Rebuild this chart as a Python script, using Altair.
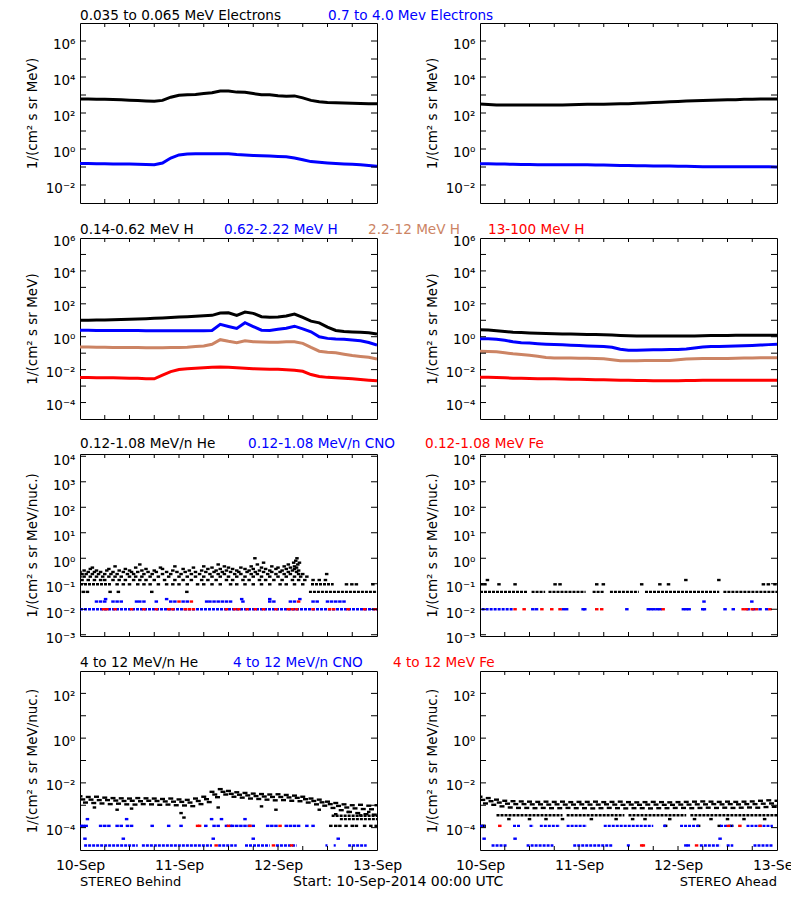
import altair as alt
import numpy as np
import pandas as pd

FONT = "DejaVu Sans"
BLACK, BLUE, BROWN, RED = "#000000", "#0000ff", "#cc8464", "#ff0000"

# ------------------------------------------------------------------
# DATA
# time axis: hours after 10-Sep-2014 00:00 UTC
# ------------------------------------------------------------------
HOURS_2H = list(range(0, 73, 2))
X_TICK_HOURS = [6, 12, 18, 24, 30, 36, 42, 48, 54, 60, 66]
X_LABEL_HOURS = [0, 24, 48, 72]
X_LABELS = ["10-Sep", "11-Sep", "12-Sep", "13-Sep"]

# Row 1: electrons, log10 flux every 2 h
BEH_E_LOW = [2.78, 2.78, 2.77, 2.76, 2.75, 2.73, 2.71, 2.69, 2.67, 2.65, 2.70, 2.88, 2.98, 3.02, 3.03, 3.08, 3.12, 3.22, 3.22,
             3.16, 3.15, 3.08, 3.02, 3.02, 2.96, 2.93, 2.95, 2.84, 2.70, 2.62, 2.58, 2.57, 2.55, 2.54, 2.53, 2.52, 2.52]
BEH_E_HIGH = [-0.80, -0.80, -0.82, -0.82, -0.84, -0.84, -0.84, -0.85, -0.86, -0.87, -0.78, -0.50, -0.33, -0.28, -0.27, -0.26,
              -0.26, -0.26, -0.27, -0.31, -0.33, -0.36, -0.38, -0.39, -0.41, -0.43, -0.50, -0.60, -0.70, -0.74, -0.78, -0.81,
              -0.83, -0.85, -0.88, -0.92, -0.96]
AHD_E_LOW = [2.50, 2.47, 2.45, 2.44, 2.44, 2.44, 2.44, 2.44, 2.44, 2.45, 2.45, 2.46, 2.47, 2.48, 2.48, 2.49, 2.50, 2.51, 2.52,
             2.54, 2.56, 2.58, 2.60, 2.62, 2.64, 2.66, 2.68, 2.70, 2.71, 2.72, 2.73, 2.74, 2.76, 2.77, 2.78, 2.78, 2.78]
AHD_E_HIGH = [-0.82, -0.82, -0.83, -0.84, -0.85, -0.86, -0.86, -0.87, -0.87, -0.87, -0.88, -0.88, -0.88, -0.88, -0.89, -0.89,
              -0.90, -0.91, -0.92, -0.93, -0.93, -0.94, -0.94, -0.95, -0.96, -0.96, -0.97, -0.98, -0.99, -0.99, -0.99, -0.98,
              -0.98, -0.98, -0.99, -0.99, -1.00]

# Row 2: protons, log10 flux every 2 h
BEH_H1 = [1.00, 1.00, 1.01, 1.02, 1.03, 1.05, 1.06, 1.08, 1.10, 1.12, 1.14, 1.17, 1.20, 1.22, 1.25, 1.28, 1.30, 1.44, 1.46,
          1.30, 1.50, 1.42, 1.22, 1.18, 1.20, 1.26, 1.38, 1.18, 0.95, 0.84, 0.58, 0.38, 0.32, 0.29, 0.27, 0.24, 0.16]
BEH_H2 = [0.39, 0.39, 0.38, 0.38, 0.38, 0.38, 0.38, 0.38, 0.37, 0.37, 0.37, 0.37, 0.37, 0.36, 0.36, 0.37, 0.38, 0.75, 0.62,
          0.50, 0.85, 0.62, 0.40, 0.38, 0.45, 0.52, 0.64, 0.48, 0.30, 0.00, -0.10, -0.14, -0.16, -0.20, -0.25, -0.35, -0.50]
BEH_H3 = [-0.63, -0.63, -0.64, -0.64, -0.65, -0.65, -0.66, -0.66, -0.67, -0.67, -0.67, -0.66, -0.66, -0.64, -0.60, -0.56,
          -0.46, -0.18, -0.28, -0.36, -0.25, -0.30, -0.32, -0.33, -0.33, -0.31, -0.30, -0.40, -0.65, -0.88, -0.94, -0.98,
          -1.06, -1.14, -1.20, -1.25, -1.36]
BEH_H4 = [-2.48, -2.48, -2.49, -2.50, -2.50, -2.51, -2.52, -2.53, -2.55, -2.56, -2.34, -2.12, -1.99, -1.95, -1.92, -1.89,
          -1.86, -1.84, -1.86, -1.89, -1.92, -1.94, -1.96, -1.97, -1.98, -2.00, -2.04, -2.10, -2.30, -2.42, -2.47, -2.50,
          -2.53, -2.56, -2.60, -2.64, -2.68]
AHD_H1 = [0.43, 0.41, 0.37, 0.32, 0.27, 0.25, 0.23, 0.21, 0.19, 0.18, 0.17, 0.16, 0.15, 0.14, 0.13, 0.12, 0.10, 0.08, 0.06,
          0.05, 0.05, 0.04, 0.04, 0.04, 0.04, 0.04, 0.05, 0.06, 0.07, 0.08, 0.08, 0.09, 0.09, 0.09, 0.09, 0.09, 0.09]
AHD_H2 = [-0.12, -0.13, -0.16, -0.22, -0.30, -0.36, -0.38, -0.42, -0.45, -0.47, -0.49, -0.52, -0.54, -0.56, -0.58, -0.60,
          -0.64, -0.76, -0.82, -0.82, -0.80, -0.79, -0.79, -0.78, -0.78, -0.74, -0.68, -0.62, -0.60, -0.59, -0.58, -0.57,
          -0.55, -0.53, -0.51, -0.48, -0.46]
AHD_H3 = [-0.89, -0.90, -0.92, -0.98, -1.04, -1.08, -1.12, -1.18, -1.26, -1.29, -1.30, -1.30, -1.31, -1.31, -1.32, -1.34,
          -1.40, -1.46, -1.46, -1.46, -1.45, -1.45, -1.44, -1.44, -1.40, -1.36, -1.34, -1.33, -1.33, -1.32, -1.32, -1.31,
          -1.30, -1.29, -1.28, -1.28, -1.27]
AHD_H4 = [-2.46, -2.47, -2.48, -2.50, -2.52, -2.53, -2.54, -2.55, -2.56, -2.56, -2.57, -2.58, -2.59, -2.60, -2.61, -2.62,
          -2.63, -2.64, -2.65, -2.66, -2.66, -2.67, -2.67, -2.67, -2.67, -2.66, -2.66, -2.65, -2.65, -2.65, -2.65, -2.65,
          -2.65, -2.65, -2.65, -2.65, -2.65]

# Row 3: 0.12-1.08 MeV/n ions -- quantised flux levels: (level, hours)
BEH_HE_LOW_DOTS = [
    (0.048, [0.8, 1.8, 7.3, 9.3, 17.4, 25.9]),
    (0.095, [9, 10.5, 12, 14, 15.5, 17, 19, 21, 22.5, 24, 26, 28.5, 30, 32, 34, 36.5, 38, 40, 42, 44, 46, 48.5, 50, 52,
             54, 64.6, 65.9, 67, 71]),
    (0.14, [0.5, 2, 3.5, 5, 6, 8, 9.5, 11, 13, 14.5, 16, 18, 20.5, 23, 25, 27, 29.5, 31, 33, 35.5, 37, 39.5, 41, 43.5,
            45, 47, 49, 51.5, 53, 54.5, 56.5, 58, 59.5]),
    (0.19, [0, 1, 2.5, 4, 5.5, 7, 8.5, 10, 12, 13.5, 15, 17, 19, 21.5, 24, 26, 28, 30, 32, 34, 36, 38, 40, 42, 44, 46,
            48, 50, 52, 53.5, 55]),
    (0.24, [0.5, 1.5, 3, 4.5, 6, 7.5, 9, 11.5, 13, 15.5, 17.5, 20, 22, 24.5, 27, 29, 31.5, 33.5, 35, 37.5, 39, 41.5,
            43, 45.5, 47.5, 49.5, 51, 53, 54, 59.8]),
    (0.29, [0, 2, 3.5, 5, 8, 10.5, 12.5, 14, 16.5, 18.5, 21, 23.5, 25.5, 28, 30.5, 32.5, 34.5, 36.5, 38.5, 40.5, 42.5,
            44.5, 46.5, 48.5, 50.5, 52.5]),
    (0.33, [1, 4, 6.5, 9.5, 12, 15, 18, 22.5, 26.5, 29.5, 33, 35.5, 38, 41, 43.5, 46, 49, 51.5, 53]),
    (0.38, [2.5, 7, 11, 16, 20, 25, 31, 34, 37, 40, 42, 45, 47.5, 50, 52]),
    (0.43, [3, 13.5, 19.5, 27.5, 32, 36, 39, 44, 48, 51, 52.5]),
    (0.48, [8.5, 23, 30, 35, 41.5, 46.5, 49.5, 52]),
    (0.57, [14.5, 33.5, 43, 50.5, 52.8]),
    (0.67, [44.5, 51.8, 53.2]),
    (0.8, [52.3]),
    (1.0, [42.4, 52.6]),
]
BEH_HE_LOW_RUNS = [(0.048, [(55.5, 72)]), (0.095, [(0, 7.5), (56, 61.5)])]
BEH_CNO_LOW_RUNS = [(0.01, [(0, 72)])]
BEH_CNO_LOW_DOTS = [
    (0.02, [4, 5, 6, 8, 9, 10, 13.7, 14.5, 15.5, 18.5, 22, 23, 25, 26, 30.7, 31.5, 32.5, 33.5, 34.5, 35.5, 36.5, 39.5,
            46, 47, 51, 52, 56.5, 57.5, 60, 61, 62, 63, 64]),
    (0.025, [6.2, 21, 39.2, 46, 53.3]),
]
BEH_FE_LOW_DOTS = [
    (0.01, [5.7, 6.5, 8.5, 12.5, 15.5, 18.5, 21.5, 22.5, 25.5, 26.5, 27.5, 35.5, 37.5, 38.5, 40.5, 42.5, 44.5, 47.5,
            50.5, 51.5, 52.5, 56.5, 60.5, 61.5, 65, 69, 71.5]),
    (0.02, [24, 27, 53]),
]
AHD_HE_LOW_RUNS = [(0.048, [(0, 11.5), (12.5, 15.8), (16.6, 25.6), (27.3, 30), (31.5, 38.5), (40, 58), (59, 72)])]
AHD_HE_LOW_DOTS = [
    (0.095, [0.4, 1.2, 4.6, 8.5, 18.2, 19.4, 28.3, 29.9, 39.2, 43.6, 45.7, 68.7, 69.9, 71.5]),
    (0.14, [1.8, 49.9, 57.9]),
]
AHD_CNO_LOW_RUNS = [(0.01, [(0.4, 8)])]
AHD_CNO_LOW_DOTS = [
    (0.01, [12.8, 13.7, 20.2, 21, 25, 25.4, 35.6, 40.8, 41.5, 42.2, 43, 43.7, 49.3, 50, 50.7, 54, 54.4, 59.4, 61.4, 65,
            66.3, 67.9, 69.5]),
    (0.02, [54.3, 65.9]),
]
AHD_FE_LOW_DOTS = [(0.01, [8.5, 10.7, 15, 17.4, 19.4, 28.3, 29.5, 44.4, 63.8, 64.6, 66, 67, 70.3])]

# Row 4: 4-12 MeV/n ions. He cloud: three strands of log10 flux (upper / middle / lower edge)
STRAND_SHIFT_H = [0.0, 0.67, 1.33]
BEH_HE_HI = [-2.60, -2.63, -2.62, -2.66, -2.68, -2.69, -2.70, -2.68, -2.69, -2.70, -2.72, -2.70, -2.74, -2.76, -2.70, -2.62,
             -2.40, -2.28, -2.36, -2.42, -2.45, -2.48, -2.50, -2.52, -2.51, -2.54, -2.57, -2.62, -2.70, -2.75, -2.84, -2.90,
             -2.96, -3.00, -2.98, -3.02, -3.00]
BEH_HE_MID = [-2.74, -2.75, -2.77, -2.77, -2.79, -2.81, -2.80, -2.82, -2.80, -2.81, -2.83, -2.84, -2.85, -2.88, -2.81, -2.73,
              -2.52, -2.40, -2.49, -2.53, -2.56, -2.59, -2.61, -2.63, -2.63, -2.65, -2.67, -2.73, -2.81, -2.87, -2.95, -3.03,
              -3.10, -3.14, -3.17, -3.18, -3.20]
BEH_HE_LO = [-2.88, -2.90, -2.92, -2.95, -2.93, -2.96, -2.97, -2.95, -2.96, -2.98, -2.97, -3.00, -3.01, -3.04, -2.95, -2.86,
             -2.64, -2.52, -2.62, -2.66, -2.70, -2.72, -2.75, -2.78, -2.77, -2.80, -2.82, -2.88, -2.96, -3.02, -3.12, -3.22,
             -3.30, -3.35, -3.40, -3.42, -3.45]
BEH_HE_OUT_H = [3.5, 9, 12.5, 24.5, 25.2, 33.5, 44, 47.5, 58, 62, 65, 68, 70]
BEH_HE_OUT_LOG = [-3.1, -3.2, -3.15, -3.35, -3.55, -3.1, -3.05, -3.2, -3.2, -3.4, -3.3, -3.45, -3.3]
BEH_HE_HIGH_RUNS = [(3.4e-4, [(61, 72)]), (2.4e-4, [(63, 72)])]
BEH_HE_HIGH_DOTS = [(1.2e-4, [60.8, 62, 63, 64.5, 66, 67, 69, 70.5, 71.8])]
BEH_CNO_HIGH_DOTS = [
    (1.2e-4, [0.2, 0.8, 1.5, 5, 6, 7, 9, 10, 11.5, 12.5, 17.5, 21.5, 24.5, 30.5, 32.5, 33.5, 35.5, 36.5, 37, 38, 39, 40,
              41, 42, 45.5, 46.5, 47.5, 50, 51, 52, 53, 55, 56.5]),
    (2.4e-4, [1.8, 11.3, 31.9, 34.3, 40.0]),
    (3.2e-5, [1.2, 10.5, 32.3, 42, 62.6]),
]
BEH_CNO_HIGH_RUNS = [(1.6e-5, [(1, 14), (15, 32), (33.5, 38), (40, 46), (47.5, 52.5), (59.5, 60), (61.5, 62), (65, 69.5)])]
BEH_FE_HIGH_DOTS = [(1.2e-4, [28.5, 29, 36, 41.2, 48.5]), (1.6e-5, [33, 46.9, 51.3])]

AHD_HE_HI = [-2.62, -2.68, -2.75, -2.80, -2.82, -2.83, -2.84, -2.85, -2.84, -2.85, -2.84, -2.86, -2.85, -2.85, -2.84, -2.86,
             -2.85, -2.84, -2.86, -2.87, -2.86, -2.85, -2.86, -2.87, -2.86, -2.85, -2.84, -2.83, -2.84, -2.85, -2.84, -2.85,
             -2.84, -2.83, -2.80, -2.78, -2.80]
AHD_HE_MID = [-2.76, -2.82, -2.88, -2.93, -2.95, -2.95, -2.96, -2.96, -2.97, -2.96, -2.97, -2.97, -2.96, -2.97, -2.97, -2.96,
              -2.97, -2.98, -2.97, -2.98, -2.97, -2.97, -2.98, -2.98, -2.97, -2.97, -2.96, -2.96, -2.95, -2.96, -2.95, -2.96,
              -2.95, -2.95, -2.93, -2.92, -2.93]
AHD_HE_LO = [-2.92, -2.98, -3.05, -3.10, -3.12, -3.12, -3.13, -3.12, -3.13, -3.13, -3.12, -3.13, -3.13, -3.14, -3.13, -3.12,
             -3.13, -3.14, -3.13, -3.13, -3.14, -3.13, -3.13, -3.12, -3.12, -3.13, -3.12, -3.11, -3.12, -3.11, -3.12, -3.11,
             -3.10, -3.11, -3.08, -3.07, -3.08]
AHD_HE_HIGH_RUNS = [(3.6e-4, [(4, 20), (21, 35), (36, 50), (51, 72)])]
AHD_HE_HIGH_DOTS = [
    (2.4e-4, [7, 12, 16, 20, 27, 33, 37, 40, 46, 52, 56, 60, 64, 69]),
    (1.2e-4, [0.5, 1, 45, 53, 58, 61]),
]
AHD_CNO_HIGH_RUNS = [
    (1.2e-4, [(0, 1.2), (8, 9.7), (12, 13), (14.5, 19.4), (21, 25.9), (30, 42), (44.4, 45.3), (48.5, 53.3), (58.2, 61.4),
              (64.6, 71)]),
    (1.6e-5, [(2.8, 6.5), (11.3, 17.8), (22.6, 32.3), (35.6, 36.4), (53.3, 58.2), (59.8, 61.4), (66.3, 71.1)]),
]
AHD_CNO_HIGH_DOTS = [(3.2e-5, [1, 8.5, 58.2]), (1.6e-5, [49.9, 50.5])]
AHD_FE_HIGH_DOTS = [(1.2e-4, [4.8, 60.2, 63, 67.9]), (1.6e-5, [39.2, 39.6, 52.5])]

# Text
TITLES = {
    1: ["0.035 to 0.065 MeV Electrons", "0.7 to 4.0 Mev Electrons"],
    2: ["0.14-0.62 MeV H", "0.62-2.22 MeV H", "2.2-12 MeV H", "13-100 MeV H"],
    3: ["0.12-1.08 MeV/n He", "0.12-1.08 MeV/n CNO", "0.12-1.08 MeV Fe"],
    4: ["4 to 12 MeV/n He", "4 to 12 MeV/n CNO", "4 to 12 MeV Fe"],
}
TITLE_COLORS = {1: [BLACK, BLUE], 2: [BLACK, BLUE, BROWN, RED], 3: [BLACK, BLUE, RED], 4: [BLACK, BLUE, RED]}
FOOTER = ["STEREO Behind", "Start: 10-Sep-2014 00:00 UTC", "STEREO Ahead"]
YTITLE = {1: "1/(cm² s sr MeV)", 2: "1/(cm² s sr MeV)", 3: "1/(cm² s sr MeV/nuc.)", 4: "1/(cm² s sr MeV/nuc.)"}

# ------------------------------------------------------------------
# LAYOUT / STYLE
# ------------------------------------------------------------------
W = 297
H = {1: 180, 2: 181, 3: 182, 4: 179}
DOM = {1: [1e-3, 1e7], 2: [1e-5, 1e6], 3: [10 ** -3.05, 10 ** 4.09], 4: [1e-5, 1e3]}
LABEL_EXP = {1: [-2, 0, 2, 4, 6], 2: [-4, -2, 0, 2, 4, 6], 3: [-3, -2, -1, 0, 1, 2, 3, 4], 4: [-4, -2, 0, 2]}
TICK_EXP = {1: list(range(-2, 7)), 2: list(range(-4, 6)), 3: list(range(-3, 5)), 4: list(range(-4, 3))}
LABEL_OFFSET = {1: 3, 2: 3, 3: 4, 4: 3}
TITLE_X = {1: [0, 248], 2: [0, 144, 288, 408], 3: [0, 168, 345], 4: [0, 153, 313]}
TITLE_Y = {1: -3, 2: -4, 3: -6, 4: -4}
TITLE_SIZE = 13.6
SUP = str.maketrans("-0123456789", "⁻⁰¹²³⁴⁵⁶⁷⁸⁹")
ONE = pd.DataFrame({"k": [0]})


def y_axis(row):
    expr = "".join(
        f"round(log(datum.value)/LN10) == {e} ? '10{str(e).translate(SUP)}' : " for e in LABEL_EXP[row]
    ) + "''"
    return alt.Axis(values=[10.0 ** e for e in LABEL_EXP[row]], labelExpr=expr, ticks=False, domain=False,
                    grid=False, labelFont=FONT, labelFontSize=13.5, labelPadding=5, labelColor=BLACK,
                    labelFlush=False, labelOverlap=False, labelOffset=LABEL_OFFSET[row],
                    title=YTITLE[row], titleFont=FONT, titleFontSize=13.5, titleFontWeight="normal",
                    titleColor=BLACK, titleX=-48, titleY=H[row] / 2, titleAngle=270, titleAlign="center",
                    titleBaseline="middle")


def x_axis(row):
    if row != 4:
        return None
    expr = "".join(f"datum.value == {h} ? '{lab}' : " for h, lab in zip(X_LABEL_HOURS, X_LABELS)) + "''"
    return alt.Axis(values=X_LABEL_HOURS, labelExpr=expr, ticks=False, domain=False, grid=False,
                    labelFont=FONT, labelFontSize=14, labelPadding=8, labelColor=BLACK,
                    labelFlush=False, labelOverlap=False, title=None)


def X(row):
    return alt.X("h:Q", scale=alt.Scale(domain=[0, 72], nice=False, zero=False), axis=x_axis(row))


def Y(row):
    return alt.Y("v:Q", scale=alt.Scale(type="log", domain=DOM[row], nice=False), axis=y_axis(row))


def line(row, logs, color):
    df = pd.DataFrame({"h": HOURS_2H, "v": np.power(10.0, logs)})
    return alt.Chart(df).mark_line(color=color, strokeWidth=3, clip=True).encode(x=X(row), y=Y(row))


def dash_marks(df, row, color, length):
    return alt.Chart(df).mark_tick(color=color, orient="horizontal", size=length, thickness=2.4, opacity=1,
                                   clip=True).encode(x=X(row), y=Y(row))


def dots(row, groups, color):
    recs = [{"h": h, "v": v} for v, hs in groups for h in hs]
    return dash_marks(pd.DataFrame(recs), row, color, 3.5)


def runs(row, groups, color):
    recs = [{"h": a, "h2": b, "v": v} for v, segs in groups for a, b in segs]
    return alt.Chart(pd.DataFrame(recs)).mark_rule(color=color, strokeWidth=2.4, strokeDash=[3, 1],
                                                   clip=True).encode(x=X(row), x2="h2:Q", y=Y(row))


def strands(row, strand_list, color):
    recs = []
    for shift, logs in zip(STRAND_SHIFT_H, strand_list):
        recs += [{"h": h + shift, "v": 10.0 ** l} for h, l in zip(HOURS_2H, logs)]
    return dash_marks(pd.DataFrame(recs), row, color, 5)


def points_log(row, hours, logs, color):
    df = pd.DataFrame({"h": hours, "v": np.power(10.0, logs)})
    return dash_marks(df, row, color, 3.5)


def frame_ticks(row):
    yt = alt.Chart(pd.DataFrame({"v": [10.0 ** e for e in TICK_EXP[row]]}))
    xt = alt.Chart(pd.DataFrame({"h": X_TICK_HOURS}))
    return [
        yt.mark_rule(color=BLACK, strokeWidth=1).encode(y=Y(row), x=alt.value(0), x2=alt.value(6)),
        yt.mark_rule(color=BLACK, strokeWidth=1).encode(y=Y(row), x=alt.value(W - 6), x2=alt.value(W)),
        xt.mark_rule(color=BLACK, strokeWidth=1).encode(x=X(row), y=alt.value(H[row]), y2=alt.value(H[row] - 4)),
        xt.mark_rule(color=BLACK, strokeWidth=1).encode(x=X(row), y=alt.value(0), y2=alt.value(4)),
    ]


def text(txt, x, y, color, align="left", size=TITLE_SIZE):
    return alt.Chart(ONE).mark_text(align=align, baseline="alphabetic", font=FONT, fontSize=size,
                                    color=color).encode(x=alt.value(x), y=alt.value(y), text=alt.value(txt))


def row_titles(row):
    return [text(t, x, TITLE_Y[row], c) for t, x, c in zip(TITLES[row], TITLE_X[row], TITLE_COLORS[row])]


def panel(row, layers):
    return alt.layer(*layers, *frame_ticks(row)).properties(width=W, height=H[row])


# Row 1
r1l = panel(1, [line(1, BEH_E_LOW, BLACK), line(1, BEH_E_HIGH, BLUE)] + row_titles(1))
r1r = panel(1, [line(1, AHD_E_LOW, BLACK), line(1, AHD_E_HIGH, BLUE)])
# Row 2
r2l = panel(2, [line(2, BEH_H1, BLACK), line(2, BEH_H2, BLUE), line(2, BEH_H3, BROWN), line(2, BEH_H4, RED)]
            + row_titles(2))
r2r = panel(2, [line(2, AHD_H1, BLACK), line(2, AHD_H2, BLUE), line(2, AHD_H3, BROWN), line(2, AHD_H4, RED)])
# Row 3
r3l = panel(3, [dots(3, BEH_HE_LOW_DOTS, BLACK), runs(3, BEH_HE_LOW_RUNS, BLACK),
                runs(3, BEH_CNO_LOW_RUNS, BLUE), dots(3, BEH_CNO_LOW_DOTS, BLUE),
                dots(3, BEH_FE_LOW_DOTS, RED)] + row_titles(3))
r3r = panel(3, [dots(3, AHD_HE_LOW_DOTS, BLACK), runs(3, AHD_HE_LOW_RUNS, BLACK),
                runs(3, AHD_CNO_LOW_RUNS, BLUE), dots(3, AHD_CNO_LOW_DOTS, BLUE),
                dots(3, AHD_FE_LOW_DOTS, RED)])
# Row 4
r4l = panel(4, [strands(4, [BEH_HE_HI, BEH_HE_MID, BEH_HE_LO], BLACK),
                points_log(4, BEH_HE_OUT_H, BEH_HE_OUT_LOG, BLACK),
                runs(4, BEH_HE_HIGH_RUNS, BLACK), dots(4, BEH_HE_HIGH_DOTS, BLACK),
                runs(4, BEH_CNO_HIGH_RUNS, BLUE), dots(4, BEH_CNO_HIGH_DOTS, BLUE),
                dots(4, BEH_FE_HIGH_DOTS, RED)] + row_titles(4)
            + [text(FOOTER[0], 0, H[4] + 36, BLACK, size=13), text(FOOTER[1], 213, H[4] + 36, BLACK, size=14)])
r4r = panel(4, [strands(4, [AHD_HE_HI, AHD_HE_MID, AHD_HE_LO], BLACK),
                runs(4, AHD_HE_HIGH_RUNS, BLACK), dots(4, AHD_HE_HIGH_DOTS, BLACK),
                runs(4, AHD_CNO_HIGH_RUNS, BLUE), dots(4, AHD_CNO_HIGH_DOTS, BLUE),
                dots(4, AHD_FE_HIGH_DOTS, RED),
                text(FOOTER[2], W, H[4] + 36, BLACK, align="right", size=13)])

chart = alt.concat(
    r1l, r1r, r2l, r2r, r3l, r3r, r4l, r4r,
    columns=2, spacing={"row": 35, "column": 103}, bounds="flush",
).properties(
    padding={"left": 16, "top": 0, "right": -12, "bottom": 0}
).configure(font=FONT, background="white").configure_view(stroke=BLACK, strokeWidth=1)

chart.save("out.html", embed_options={"renderer": "svg", "actions": False})
